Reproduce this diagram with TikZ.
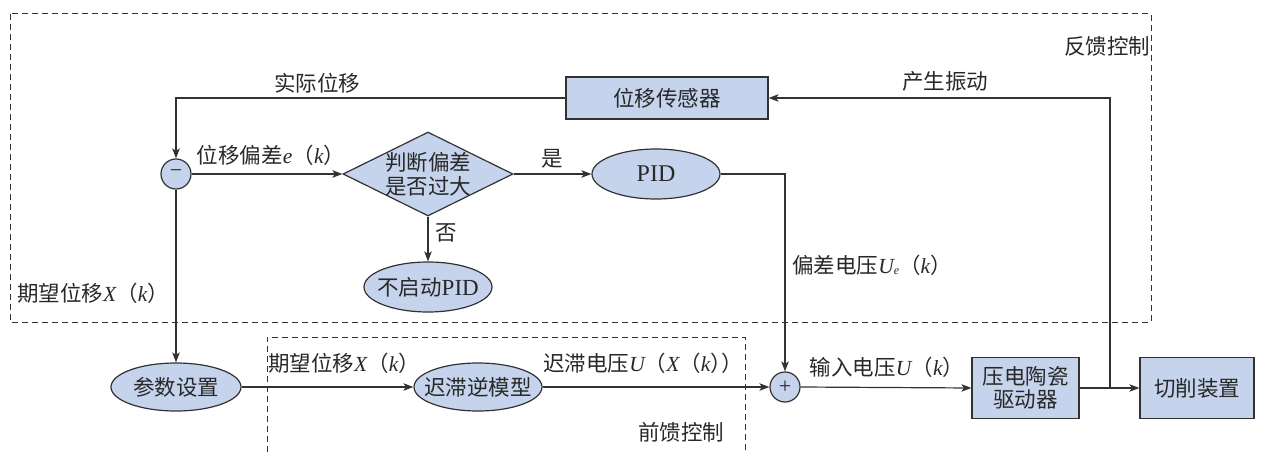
\documentclass[tikz,border=0pt]{standalone}
\usepackage{fontspec}
\setmainfont{Noto Sans CJK SC}
\newfontfamily\tm{Liberation Serif}
\usetikzlibrary{shapes.geometric,arrows.meta}
\definecolor{boxfill}{RGB}{197,212,236}
\definecolor{edgec}{RGB}{50,50,50}
\definecolor{txtc}{RGB}{40,40,40}
\newcommand{\vx}[1]{{\tm\itshape #1}}
\begin{document}
\begin{tikzpicture}[x=1pt,y=-1pt,
  every node/.style={text=txtc,font=\fontsize{21.5}{25}\selectfont},
  blk/.style={draw=edgec,line width=1.2pt,fill=boxfill,rectangle,inner sep=0pt},
  ell/.style={draw=edgec,line width=1.2pt,fill=boxfill,ellipse,inner sep=0pt},
  dec/.style={draw=edgec,line width=1.2pt,fill=boxfill,diamond,inner sep=0pt},
  sumc/.style={draw=edgec,line width=1.2pt,fill=boxfill,circle,inner sep=0pt,minimum size=30pt},
  arr/.style={draw=edgec,line width=1.2pt,-{Stealth[length=10pt,width=7.5pt,inset=2.5pt]}},
  grp/.style={draw=edgec,line width=1pt,dash pattern=on 6pt off 4pt},
  lab/.style={inner sep=0pt}
]
\useasboundingbox (0,0) rectangle (1261,452);

% group frames
\draw[grp] (10,14) rectangle (1151,322);
\draw[grp] (267,452) -- (267,337) -- (745,337) -- (745,452);
\node[lab] (fbl) at (1107,46) {反馈控制};
\node[lab] (ffl) at (681,432) {前馈控制};

% nodes
\node[blk,minimum width=202pt,minimum height=42pt] (sensor) at (667,98) {位移传感器};
\node[sumc] (minus) at (176,174) {\fontsize{22}{22}\selectfont\tm −};
\node[dec,minimum width=170pt,minimum height=84pt,
      label={[align=center,font=\fontsize{21.5}{24}\selectfont,text=txtc]center:判断偏差\\是否过大}] (dia) at (428,174) {};
\node[ell,minimum width=128pt,minimum height=50pt] (pid) at (656,174) {\fontsize{24}{24}\selectfont\tm PID};
\node[ell,minimum width=128pt,minimum height=50pt,inner xsep=-10pt] (nopid) at (428,287) {不启动{\fontsize{23}{24}\selectfont\tm PID}};
\node[ell,minimum width=130pt,minimum height=48pt] (param) at (176,387) {参数设置};
\node[ell,minimum width=128pt,minimum height=48pt,inner xsep=-10pt] (hyst) at (478,387) {迟滞逆模型};
\node[sumc] (plus) at (785,387) {\fontsize{22}{22}\selectfont\tm +};
\node[blk,minimum width=107pt,minimum height=61pt,align=center,font=\fontsize{21.5}{23}\selectfont] (driver) at (1025.5,388) {压电陶瓷\\驱动器};
\node[blk,minimum width=114pt,minimum height=61pt] (cut) at (1197,388) {切削装置};
\coordinate (branch) at (1110,388);

% connectors
\draw[arr] (sensor.west) -| (minus.north);
\draw[arr] (minus.east) -- (dia.west);
\draw[arr] (dia.east) -- (pid.west);
\draw[arr] (dia.south) -- (nopid.north);
\draw[arr] (pid.east) -| (plus.north);
\draw[arr] (minus.south) -- (param.north);
\draw[arr] (param.east) -- (hyst.west);
\draw[arr] (hyst.east) -- (plus.west);
\draw[arr] (plus.east) -- (driver.west);
\draw[arr] (driver.east) -- (cut.west);
\draw[arr] (branch) |- (sensor.east);

% labels
\node[lab] (l1) at (317,83) {实际位移};
\node[lab] (l2) at (945,81) {产生振动};
\node[lab] (l3) at (271,155) {位移偏差\vx{e}（\vx{k}）};
\node[lab] (l4) at (552,159) {是};
\node[lab] (l5) at (446,233) {否};
\node[lab] (l6) at (872,265) {偏差电压\vx{U}\raisebox{-1pt}{\fontsize{12}{12}\selectfont\vx{e}}（\vx{k}）};
\node[lab] (l7) at (93,293) {期望位移\vx{X}（\vx{k}）};
\node[lab] (l8) at (344,363) {期望位移\vx{X}（\vx{k}）};
\node[lab] (l9) at (643,363) {迟滞电压\vx{U}（\vx{X}（\vx{k}）\kern-0.5em）};
\node[lab] (l10) at (887,367) {输入电压\vx{U}（\vx{k}）};
\end{tikzpicture}
\end{document}
